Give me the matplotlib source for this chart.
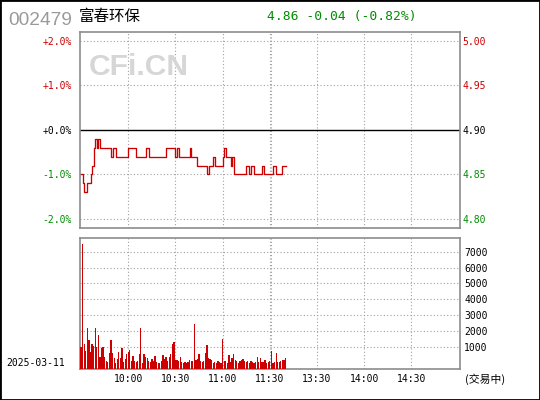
import matplotlib
matplotlib.use('Agg')
import matplotlib.pyplot as plt
from matplotlib.patches import Rectangle

W, H = 540, 400

CODE = '002479'
NAME = '富春环保'
QUOTE = '4.86 -0.04 (-0.82%)'
DATE = '2025-03-11'
STATUS = '(交易中)'
BASE = 4.90

# one value per minute from 9:30
price = [
    4.85, 4.84, 4.83, 4.83, 4.84, 4.84, 4.85, 4.86, 4.88, 4.89,
    4.88, 4.89, 4.88, 4.88, 4.88, 4.88, 4.88, 4.88, 4.88, 4.87,
    4.88, 4.88, 4.87, 4.87, 4.87, 4.87, 4.87, 4.87, 4.87, 4.87,
    4.88, 4.88, 4.88, 4.88, 4.88, 4.87, 4.87, 4.87, 4.87, 4.87,
    4.87, 4.88, 4.88, 4.87, 4.87, 4.87, 4.87, 4.87, 4.87, 4.87,
    4.87, 4.87, 4.87, 4.87, 4.88, 4.88, 4.88, 4.88, 4.88, 4.88,
    4.87, 4.88, 4.87, 4.87, 4.87, 4.87, 4.87, 4.87, 4.87, 4.88,
    4.87, 4.87, 4.87, 4.87, 4.86, 4.86, 4.86, 4.86, 4.86, 4.86,
    4.85, 4.86, 4.86, 4.86, 4.87, 4.86, 4.86, 4.86, 4.86, 4.86,
    4.87, 4.88, 4.87, 4.87, 4.87, 4.86, 4.87, 4.85, 4.85, 4.85,
    4.85, 4.85, 4.85, 4.85, 4.85, 4.86, 4.86, 4.85, 4.86, 4.86,
    4.85, 4.85, 4.85, 4.85, 4.85, 4.86, 4.85, 4.85, 4.85, 4.85,
    4.85, 4.85, 4.86, 4.86, 4.85, 4.85, 4.85, 4.85, 4.86, 4.86,
    4.86,
]

volume = [
    1000, 7450, 1200, 790, 2200, 1460, 710, 1200, 1080, 2200,
    1040, 1770, 420, 940, 1000, 420, 150, 80, 650, 1460,
    650, 330, 40, 270, 710, 330, 960, 80, 270, 580,
    710, 830, 150, 460, 150, 80, 150, 580, 2200, 20,
    580, 400, 330, 150, 80, 270, 150, 460, 80, 20,
    20, 150, 520, 270, 400, 150, 400, 580, 1200, 1330,
    210, 210, 150, 400, 100, 20, 80, 20, 80, 210,
    150, 120, 2460, 210, 270, 580, 150, 80, 150, 650,
    1150, 330, 270, 210, 20, 100, 20, 150, 80, 20,
    1540, 150, 150, 20, 520, 80, 330, 580, 210, 150,
    20, 150, 210, 270, 150, 80, 150, 20, 150, 80,
    20, 80, 400, 80, 330, 80, 80, 210, 20, 100,
    150, 790, 20, 100, 650, 80, 80, 150, 210, 210,
    330,
]

price_ticks = [4.80, 4.85, 4.90, 4.95, 5.00]
vol_ticks = [1000, 2000, 3000, 4000, 5000, 6000, 7000]
time_ticks = [30, 60, 90, 120, 150, 180, 210]
time_labels = ['10:00', '10:30', '11:00', '11:30', '13:30', '14:00', '14:30']
break_line = 121

RED = '#cc0000'
GREEN = '#008c00'
GRID = '#a0a0a0'
FRAME = '#8c8c8c'
MONO = 'DejaVu Sans Mono'
CJK = ['Noto Sans CJK SC', 'DejaVu Sans']


def px(x, y):
    return x / W, 1 - y / H


def _style(ax):
    for s in ax.spines.values():
        s.set_color(FRAME)
        s.set_linewidth(1.2)
    ax.tick_params(length=0, labelsize=7)
    for t in ax.get_xticklabels() + ax.get_yticklabels():
        t.set_fontfamily(MONO)


def _vgrid(ax):
    for t in time_ticks + [break_line]:
        ax.axvline(t, color=GRID, lw=0.8, ls=(0, (1, 2)), zorder=0)


fig = plt.figure(figsize=(W / 100, H / 100), dpi=100)

minutes = list(range(len(price)))

# price panel
ax_p = fig.add_axes([80 / W, 1 - 228 / H, 380 / W, (228 - 31.7) / H])
ax_p.set_xlim(-0.7, 240.9)
ax_p.set_ylim(4.790, 5.010)
_vgrid(ax_p)
for p in price_ticks:
    if p != BASE:
        ax_p.axhline(p, color=GRID, lw=0.8, ls=(0, (1, 2)), zorder=0)
ax_p.axhline(BASE, color='black', lw=1.0, zorder=1)
ax_p.plot(minutes, price, drawstyle='steps-post', color=RED, lw=0.95, zorder=3)
ax_p.set_xticks([])
ax_p.set_yticks(price_ticks)
pct = []
for p in price_ticks:
    v = (p - BASE) / BASE * 100
    pct.append('%+.1f%%' % v if abs(v) > 1e-9 else '+0.0%')
ax_p.set_yticklabels(pct)
ax_p.tick_params(axis='y', pad=6)
_style(ax_p)

ax_r = ax_p.twinx()
ax_r.set_ylim(ax_p.get_ylim())
ax_r.set_yticks(price_ticks)
ax_r.set_yticklabels(['%.2f' % p for p in price_ticks])
ax_r.tick_params(axis='y', pad=1.5)
_style(ax_r)
for s in ax_r.spines.values():
    s.set_visible(False)

for lab_l, lab_r, p in zip(ax_p.get_yticklabels(), ax_r.get_yticklabels(), price_ticks):
    c = RED if p > BASE else (GREEN if p < BASE else 'black')
    lab_l.set_color(c)
    lab_r.set_color(c)

# volume panel
ax_v = fig.add_axes([80 / W, 1 - 369.3 / H, 380 / W, (369.3 - 238) / H])
vol_floor = -375
ax_v.set_xlim(-0.7, 240.9)
ax_v.set_ylim(vol_floor, 7850)
_vgrid(ax_v)
for v in vol_ticks:
    ax_v.axhline(v, color=GRID, lw=0.8, ls=(0, (1, 2)), zorder=0)
ax_v.bar(minutes, [v - vol_floor for v in volume], bottom=vol_floor,
         width=0.8, color=RED, linewidth=0, zorder=3)
ax_v.yaxis.tick_right()
ax_v.set_yticks(vol_ticks)
ax_v.set_yticklabels([str(v) for v in vol_ticks])
ax_v.set_xticks(time_ticks)
ax_v.set_xticklabels(time_labels)
ax_v.tick_params(axis='y', pad=3)
ax_v.tick_params(axis='x', pad=3.5)
_style(ax_v)

# header and footer texts
fig.text(*px(8, 24.8), CODE, color='#9a9a9a', fontsize=13.8,
         family='Liberation Sans', va='baseline')
fig.text(*px(78.5, 21.5), NAME, color='black', fontsize=11.2,
         family=CJK, va='baseline')
fig.text(*px(267, 20), QUOTE, color=GREEN, fontsize=9.4,
         family=MONO, va='baseline')
fig.text(*px(89, 75), 'CFi.CN', color='#d6d6d6', fontsize=21.6,
         family='Liberation Sans', weight='bold', va='baseline', zorder=0)
fig.text(*px(6.5, 363.3), DATE, color='black', fontsize=7,
         family=MONO, va='center')
fig.text(*px(465, 379.5), STATUS, color='black', fontsize=7.8,
         family=CJK, va='center')

fig.add_artist(Rectangle((0, 0), 1, 1, transform=fig.transFigure,
                         fill=False, ec='black', lw=2))

fig.savefig('out.png', dpi=100)
